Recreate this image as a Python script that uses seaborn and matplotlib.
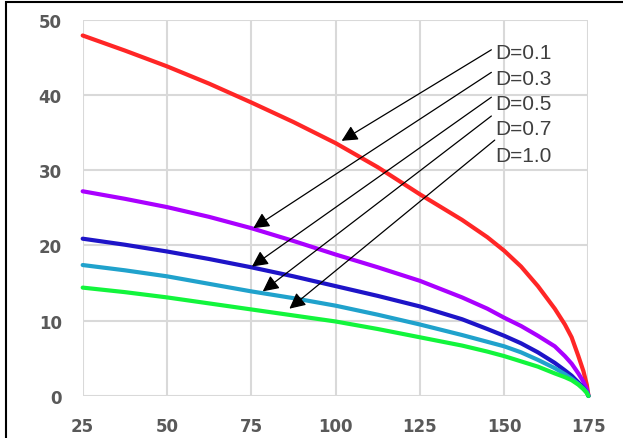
import numpy as np
import pandas as pd
import matplotlib
matplotlib.use("Agg")
import matplotlib.pyplot as plt
from matplotlib.patches import Rectangle
import seaborn as sns

# values
x = [25, 37.5, 50, 62.5, 75, 87.5, 100, 112.5, 125, 137.5, 145, 150, 155, 160, 165, 168, 170, 172, 173.5, 174.5, 175]
d01 = [47.9, 45.9, 43.8, 41.5, 39.0, 36.4, 33.6, 30.4, 26.8, 23.4, 21.1, 19.3, 17.2, 14.6, 11.6, 9.5, 7.8, 5.3, 3.3, 1.5, 0]
d03 = [27.2, 26.2, 25.1, 23.8, 22.3, 20.6, 18.8, 17.1, 15.3, 13.1, 11.6, 10.4, 9.3, 8.0, 6.6, 5.3, 4.3, 3.0, 1.9, 0.9, 0]
d05 = [20.9, 20.1, 19.2, 18.2, 17.1, 15.9, 14.6, 13.3, 11.9, 10.2, 8.9, 8.0, 7.0, 5.8, 4.4, 3.4, 2.7, 1.8, 1.1, 0.5, 0]
d07 = [17.4, 16.7, 15.9, 14.9, 13.9, 13.0, 12.0, 10.8, 9.5, 8.1, 7.2, 6.6, 5.8, 4.8, 3.7, 2.9, 2.3, 1.6, 1.0, 0.5, 0]
d10 = [14.4, 13.8, 13.1, 12.3, 11.5, 10.7, 9.9, 8.9, 7.8, 6.7, 5.9, 5.3, 4.6, 3.9, 3.0, 2.5, 2.1, 1.5, 0.9, 0.4, 0]

labels = ["D=0.1", "D=0.3", "D=0.5", "D=0.7", "D=1.0"]
colors = ["#ff2626", "#aa00ff", "#1e14c8", "#20a2cc", "#12f53c"]

# annotation arrows: label position, arrow start, arrow tip (data units)
label_xy = [(147.3, 45.6), (147.3, 42.2), (147.3, 38.8), (147.3, 35.5), (147.3, 32.0)]
arrow_from = [(146.2, 46.0), (146.2, 43.0), (146.2, 39.7), (146.2, 37.2), (147.2, 34.0)]
arrow_to = [(101.8, 33.9), (75.6, 22.3), (75.2, 17.2), (78.4, 13.9), (86.3, 11.6)]

series = [d01, d03, d05, d07, d10]
df = pd.concat([pd.DataFrame({"x": x, "y": s, "D": lab}) for s, lab in zip(series, labels)])

sns.set_style("white")
fig = plt.figure(figsize=(6.23, 4.39), dpi=100)
ax = fig.add_axes([0.1327, 0.0957, 0.8119, 0.8572])

sns.lineplot(data=df, x="x", y="y", hue="D", palette=dict(zip(labels, colors)),
             linewidth=3, legend=False, ax=ax, sort=True,
             solid_capstyle="round", solid_joinstyle="round", clip_on=False)

ax.set_xlim(25, 175)
ax.set_ylim(0, 50)
ax.set_xticks([25, 50, 75, 100, 125, 150, 175])
ax.set_yticks([0, 10, 20, 30, 40, 50])
ax.set_xlabel("")
ax.set_ylabel("")
ax.grid(True, color="#d9d9d9", linewidth=1.5)
ax.set_axisbelow(True)
for sp in ax.spines.values():
    sp.set_visible(False)
ax.tick_params(length=0, pad=15, labelcolor="#595959", labelsize=12)
for t in ax.get_xticklabels() + ax.get_yticklabels():
    t.set_fontweight("bold")

for lab, txy, p0, p1 in zip(labels, label_xy, arrow_from, arrow_to):
    ax.annotate("", xy=p1, xytext=p0,
                arrowprops=dict(arrowstyle="-|>,head_length=0.6,head_width=0.3",
                                color="black", lw=0.9, shrinkA=0, shrinkB=0,
                                mutation_scale=16))
    ax.text(txy[0], txy[1], lab, fontsize=15, color="#3f3f3f", va="center", ha="left",
            family=["Liberation Sans", "DejaVu Sans"])

# outer frame of the screenshot (left and top edges visible)
fig.patches.append(Rectangle((6 / 623, -0.05), 1.2, 1 - 3 / 439 + 0.05, transform=fig.transFigure,
                             fill=False, edgecolor="black", linewidth=1.5, clip_on=False))

fig.savefig("out.png", dpi=100)
